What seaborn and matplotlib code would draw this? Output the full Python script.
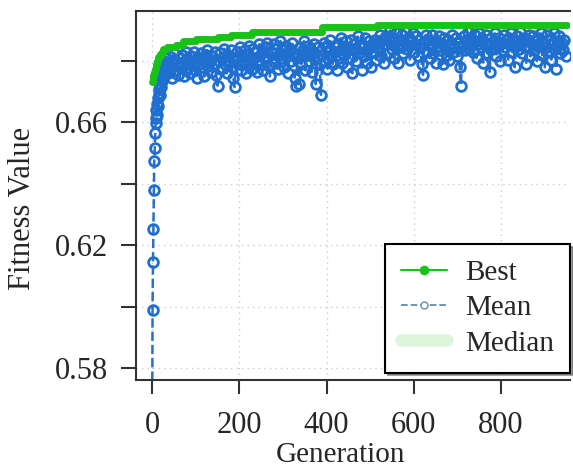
import numpy as np
import pandas as pd
import matplotlib
matplotlib.use('Agg')
import matplotlib.pyplot as plt
import seaborn as sns
from matplotlib.lines import Line2D

# ---- data ----
# early generations one by one, then every 3rd generation
early_gens = list(range(0, 31))
early_mean = [0.5500, 0.5990, 0.6144, 0.6252, 0.6380, 0.6474, 0.6518, 0.6564, 0.6597, 0.6615,
              0.6640, 0.6625, 0.6660, 0.6680, 0.6655, 0.6695, 0.6710, 0.6690, 0.6725, 0.6740,
              0.6715, 0.6750, 0.6735, 0.6765, 0.6780, 0.6745, 0.6790, 0.6770, 0.6800, 0.6760,
              0.6810]
late_gens = list(range(33, 949, 3))
late_mean = [
    0.6790, 0.6760, 0.6815, 0.6780, 0.6745, 0.6805, 0.6825, 0.6770, 0.6795, 0.6755,
    0.6810, 0.6785, 0.6820, 0.6750, 0.6800, 0.6830, 0.6775, 0.6805, 0.6760, 0.6815,
    0.6795, 0.6830, 0.6770, 0.6745, 0.6810, 0.6790, 0.6825, 0.6780, 0.6800, 0.6750,
    0.6820, 0.6835, 0.6785, 0.6805, 0.6765, 0.6815, 0.6790, 0.6830, 0.6755, 0.6720,
    0.6800, 0.6825, 0.6775, 0.6810, 0.6840, 0.6790, 0.6760, 0.6820, 0.6800, 0.6835,
    0.6780, 0.6745, 0.6715, 0.6810, 0.6830, 0.6790, 0.6845, 0.6770, 0.6815, 0.6800,
    0.6835, 0.6760, 0.6820, 0.6850, 0.6795, 0.6775, 0.6840, 0.6810, 0.6830, 0.6765,
    0.6805, 0.6855, 0.6790, 0.6825, 0.6770, 0.6845, 0.6815, 0.6860, 0.6785, 0.6750,
    0.6830, 0.6810, 0.6855, 0.6795, 0.6840, 0.6775, 0.6820, 0.6865, 0.6800, 0.6835,
    0.6780, 0.6850, 0.6815, 0.6760, 0.6840, 0.6800, 0.6860, 0.6825, 0.6745, 0.6720,
    0.6810, 0.6725, 0.6845, 0.6790, 0.6835, 0.6865, 0.6770, 0.6820, 0.6850, 0.6800,
    0.6840, 0.6765, 0.6830, 0.6855, 0.6725, 0.6810, 0.6845, 0.6790, 0.6690, 0.6820,
    0.6860, 0.6800, 0.6845, 0.6775, 0.6835, 0.6870, 0.6815, 0.6790, 0.6850, 0.6830,
    0.6770, 0.6855, 0.6810, 0.6875, 0.6795, 0.6840, 0.6820, 0.6865, 0.6780, 0.6845,
    0.6810, 0.6870, 0.6760, 0.6835, 0.6855, 0.6800, 0.6880, 0.6825, 0.6845, 0.6770,
    0.6850, 0.6815, 0.6875, 0.6795, 0.6840, 0.6865, 0.6780, 0.6855, 0.6830, 0.6870,
    0.6805, 0.6860, 0.6840, 0.6885, 0.6815, 0.6870, 0.6795, 0.6855, 0.6880, 0.6825,
    0.6865, 0.6900, 0.6840, 0.6875, 0.6810, 0.6890, 0.6850, 0.6795, 0.6870, 0.6845,
    0.6885, 0.6825, 0.6860, 0.6895, 0.6840, 0.6875, 0.6805, 0.6865, 0.6890, 0.6830,
    0.6855, 0.6880, 0.6815, 0.6870, 0.6845, 0.6790, 0.6755, 0.6860, 0.6885, 0.6830,
    0.6870, 0.6810, 0.6850, 0.6885, 0.6825, 0.6865, 0.6795, 0.6845, 0.6880, 0.6835,
    0.6860, 0.6790, 0.6875, 0.6840, 0.6820, 0.6870, 0.6805, 0.6855, 0.6885, 0.6830,
    0.6850, 0.6875, 0.6815, 0.6860, 0.6780, 0.6720, 0.6845, 0.6880, 0.6835, 0.6865,
    0.6895, 0.6840, 0.6875, 0.6900, 0.6830, 0.6865, 0.6885, 0.6810, 0.6855, 0.6890,
    0.6845, 0.6870, 0.6795, 0.6860, 0.6885, 0.6825, 0.6850, 0.6765, 0.6875, 0.6840,
    0.6865, 0.6890, 0.6815, 0.6850, 0.6875, 0.6800, 0.6860, 0.6835, 0.6885, 0.6845,
    0.6870, 0.6805, 0.6855, 0.6890, 0.6830, 0.6865, 0.6780, 0.6850, 0.6880, 0.6840,
    0.6895, 0.6860, 0.6825, 0.6875, 0.6845, 0.6790, 0.6870, 0.6885, 0.6815, 0.6855,
    0.6880, 0.6835, 0.6865, 0.6800, 0.6875, 0.6850, 0.6890, 0.6820, 0.6860, 0.6780,
    0.6845, 0.6885, 0.6830, 0.6870, 0.6805, 0.6855, 0.6890, 0.6840, 0.6775, 0.6865,
    0.6880, 0.6825, 0.6860, 0.6835, 0.6870, 0.6815]
mean_gens = early_gens + late_gens
mean_vals = early_mean + late_mean

# best fitness only changes at a few generations
best_gens = [0, 1, 2, 4, 6, 8, 11, 14, 18, 22, 26, 35, 55, 70, 100, 150, 180, 230, 390, 515, 950]
best_vals = [0.6733, 0.6745, 0.6755, 0.6765, 0.6775, 0.6790, 0.6800, 0.6812, 0.6822, 0.6830,
             0.6838, 0.6845, 0.6852, 0.6866, 0.6872, 0.6878, 0.6886, 0.6893, 0.6910, 0.6918,
             0.6918]

median_gens = [30, 100, 200, 300, 400, 500, 600, 700, 800, 900, 950]
median_vals = [0.6770, 0.6800, 0.6810, 0.6820, 0.6825, 0.6830, 0.6840, 0.6840, 0.6840, 0.6840, 0.6845]

y_ticks = [0.58, 0.60, 0.62, 0.64, 0.66, 0.68]
y_labels = ['0.58', '', '0.62', '', '0.66', '']
x_ticks = [0, 200, 400, 600, 800]

GREEN = '#19c219'
BLUE = '#1f6fd0'
BLUE_LINE = '#2a70c4'
PALE = '#dcf5dc'

sns.set_theme(style='white')
plt.rcParams['font.family'] = ['Liberation Serif', 'DejaVu Serif']
plt.rcParams['font.size'] = 22

fig = plt.figure(figsize=(5.73, 4.72), dpi=100)
ax = fig.add_axes([0.2373, 0.1949, 0.7575, 0.7818])

sns.lineplot(x=median_gens, y=median_vals, color=PALE, linewidth=6,
             solid_capstyle='round', ax=ax, zorder=1)
sns.lineplot(x=mean_gens, y=mean_vals, color=BLUE_LINE, linestyle='--', linewidth=1.8,
             marker='o', markersize=7, markerfacecolor='none', markeredgecolor=BLUE,
             markeredgewidth=2.0, estimator=None, sort=False, ax=ax, zorder=2)
sns.lineplot(x=best_gens, y=best_vals, color=GREEN, linewidth=5, drawstyle='steps-post',
             solid_capstyle='round', estimator=None, sort=False, ax=ax, zorder=3)

ax.set_xlim(-37, 958)
ax.set_ylim(0.5761, 0.6963)
ax.set_xticks(x_ticks)
ax.set_yticks(y_ticks)
ax.set_yticklabels(y_labels)
ax.set_xlabel('Generation', fontsize=21)
ax.set_ylabel('Fitness Value', fontsize=22)
ax.xaxis.set_label_coords(0.472, -0.168)
ax.yaxis.set_label_coords(-0.228, 0.466)
ax.tick_params(axis='x', labelsize=22, length=10, width=1.5, color='#333333',
               direction='out', bottom=True, pad=12)
ax.tick_params(axis='y', labelsize=22, length=11, width=1.5, color='#333333',
               direction='out', left=True, pad=9)

ax.grid(True, color='#cccccc', linestyle=(0, (1, 3)), linewidth=1)
for side in ['left', 'bottom', 'top']:
    ax.spines[side].set_color('#333333')
    ax.spines[side].set_linewidth(1.5)
ax.spines['right'].set_visible(False)

handles = [
    Line2D([], [], color=GREEN, linewidth=1.5, marker='o', markersize=6,
           markerfacecolor=GREEN, markeredgecolor=GREEN),
    Line2D([], [], color='#5f8fb5', linewidth=1.3, linestyle='--', marker='o', markersize=5,
           markerfacecolor='white', markeredgecolor='#5f8fb5'),
    Line2D([], [], color=PALE, linewidth=9, solid_capstyle='round'),
]
leg = ax.legend(handles, ['Best', 'Mean', 'Median'], loc='lower right',
                bbox_to_anchor=(1.0, 0.02), borderaxespad=0, fontsize=21,
                frameon=True, fancybox=False, shadow=True, handlelength=1.6,
                handletextpad=0.6, labelspacing=0.3, borderpad=0.55)
leg.get_frame().set_edgecolor('black')
leg.get_frame().set_linewidth(1.5)

fig.savefig('out.png', dpi=100)
